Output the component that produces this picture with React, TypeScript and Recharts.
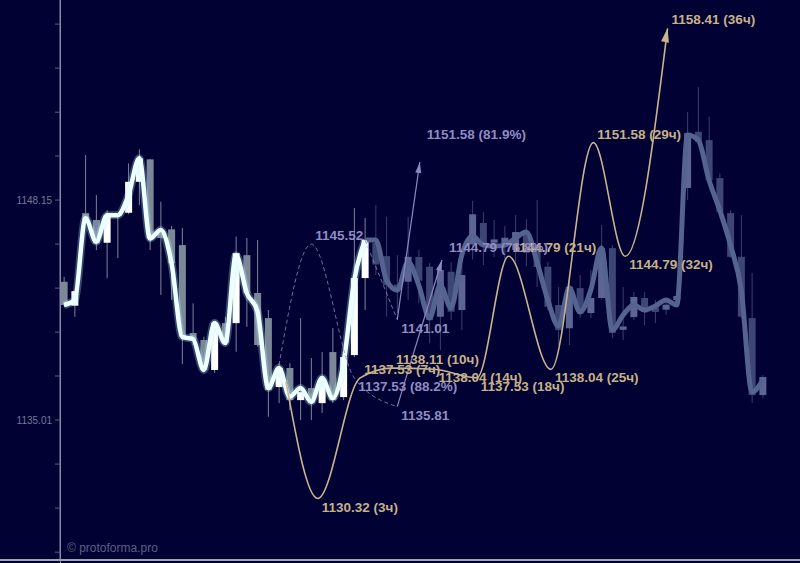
import React from 'react';
import { ComposedChart, Bar, Line, Scatter, XAxis, YAxis } from 'recharts';

// ---------- candles (hourly), index = candle number ----------
const CANDLE_OPEN = [
  1143.27, 1141.84, 1147.37, 1146.96, 1145.6, 1147.2, 1147.39, 1149.24, 1150.58, 1146.18,
  1146.4, 1145.46, 1140.21, 1139.79, 1138.0, 1140.8, 1140.8, 1144.86, 1142.6, 1141.1,
  1136.98, 1138.12, 1136.2, 1136.92, 1136.02, 1139.07, 1136.38, 1138.89, 1143.49, 1145.6,
  1144.8, 1143.1, 1143.27, 1144.75, 1144.17, 1141.18, 1143.87, 1141.58, 1145.5, 1146.78,
  1145.6, 1145.5, 1145.16, 1146.2, 1145.34, 1144.17, 1141.88, 1140.49, 1142.89, 1141.4,
  1142.3, 1145.28, 1140.4, 1141.16, 1142.3, 1141.88, 1141.6, 1142.18, 1148.87, 1152.23,
  1151.73, 1149.46, 1147.37, 1144.76, 1141.1, 1136.5,
];
const CANDLE_HIGH = [
  1143.57, 1142.75, 1150.84, 1148.45, 1147.55, 1147.37, 1150.34, 1151.18, 1150.6, 1148.05,
  1146.6, 1146.48, 1141.98, 1139.98, 1140.9, 1141.18, 1145.96, 1145.88, 1145.76, 1141.58,
  1138.41, 1138.41, 1141.1, 1138.71, 1139.07, 1140.5, 1139.07, 1147.67, 1147.07, 1147.85,
  1147.15, 1144.86, 1147.15, 1145.16, 1144.39, 1144.2, 1144.45, 1144.27, 1148.1, 1147.43,
  1146.96, 1146.6, 1147.25, 1147.0, 1148.15, 1144.45, 1142.95, 1143.37, 1143.67, 1143.97,
  1146.66, 1145.46, 1142.95, 1142.66, 1142.66, 1142.18, 1142.18, 1142.5, 1153.42, 1154.9,
  1153.13, 1149.74, 1147.55, 1147.25, 1143.79, 1137.7,
];
const CANDLE_LOW = [
  1141.8, 1141.18, 1146.84, 1145.16, 1143.47, 1144.69, 1147.3, 1147.85, 1145.16, 1142.48,
  1142.18, 1138.35, 1139.49, 1137.88, 1137.82, 1139.5, 1139.09, 1140.58, 1139.4, 1135.21,
  1136.02, 1135.61, 1135.01, 1135.01, 1135.43, 1136.02, 1136.2, 1138.77, 1141.58, 1143.67,
  1141.18, 1141.4, 1142.18, 1142.0, 1139.61, 1139.19, 1140.98, 1140.38, 1144.6, 1144.27,
  1144.75, 1144.4, 1144.27, 1144.2, 1142.95, 1141.58, 1139.49, 1139.49, 1141.1, 1141.1,
  1142.2, 1139.91, 1139.79, 1140.98, 1140.68, 1140.8, 1141.3, 1141.9, 1148.15, 1151.44,
  1149.22, 1147.4, 1144.7, 1141.1, 1136.02, 1136.32,
];
const CANDLE_CLOSE = [
  1141.88, 1142.71, 1146.96, 1145.56, 1147.25, 1147.3, 1149.24, 1150.64, 1145.86, 1145.88,
  1144.37, 1139.98, 1139.79, 1138.0, 1140.82, 1139.61, 1144.98, 1142.6, 1139.49, 1136.8,
  1138.12, 1136.2, 1136.68, 1136.02, 1137.4, 1136.2, 1138.77, 1143.49, 1145.76, 1144.3,
  1143.07, 1142.8, 1144.76, 1143.33, 1140.98, 1143.97, 1141.48, 1143.67, 1147.3, 1145.46,
  1145.8, 1145.9, 1146.24, 1145.0, 1144.15, 1141.78, 1140.38, 1142.97, 1141.58, 1142.3,
  1145.28, 1140.21, 1140.6, 1142.36, 1141.46, 1141.46, 1141.9, 1142.42, 1152.15, 1151.63,
  1149.34, 1147.45, 1144.76, 1141.18, 1136.5, 1137.58,
];
// smoothed price line
const SMOOTH = [
  1141.88, 1142.18, 1147.07, 1145.66, 1147.25, 1147.25, 1148.45, 1150.64, 1145.86, 1146.36,
  1144.39, 1139.98, 1139.85, 1138.0, 1140.8, 1139.61, 1144.86, 1142.6, 1141.5, 1136.92,
  1138.12, 1136.4, 1136.92, 1136.1, 1137.52, 1136.32, 1138.41, 1143.37, 1145.76, 1145.76,
  1143.37, 1142.77, 1144.45, 1143.07, 1141.1, 1143.07, 1141.7, 1144.86, 1146.0, 1145.46,
  1145.4, 1145.46, 1145.88, 1146.24, 1144.45, 1142.18, 1140.62, 1142.89, 1141.46, 1142.77,
  1145.28, 1140.38, 1141.28, 1141.88, 1141.58, 1141.82, 1142.18, 1141.88, 1152.03, 1151.73,
  1149.34, 1147.55, 1145.46, 1142.77, 1136.68, 1137.4,
];
const LIVE_LAST = 28; // last bright (actual) candle

// ---------- axis ----------
const Y_TICKS = [
  1158.66, 1156.03, 1153.40, 1150.78, 1148.15, 1145.52, 1142.89, 1140.26, 1137.64, 1135.01,
  1132.38, 1129.75, 1127.12,
];
const Y_LABELED = [1148.15, 1135.01];
const Y_DOMAIN: [number, number] = [1126.65, 1160.1];
const X_DOMAIN: [number, number] = [-0.372, 68.465];

// ---------- yellow forecast (hours) ----------
const YELLOW_HOURS = [0, 3, 7, 10, 14, 18, 21, 25, 29, 32, 36];
const YELLOW_VALUES = [1137.3, 1130.32, 1137.53, 1138.11, 1138.04, 1137.53, 1144.79, 1138.04, 1151.58, 1144.79, 1158.41];
const YELLOW_START = 20.65; // candle position of hour 0
const HOUR_STEP = 0.986;

// ---------- purple forecasts ----------
const PURPLE_A_POS = [20, 23, 27, 31];
const PURPLE_A_VALUES = [1138.3, 1145.52, 1137.53, 1135.81];
const PURPLE_A_LABELS = ['', '1145.52', '1137.53 (88.2%)', '1135.81'];
const ARROW_A_POS = [31, 35.16];
const ARROW_A_VALUES = [1135.81, 1144.57];
const ARROW_A_TARGET = 1144.79;
const ARROW_A_PROB = '76.8%';

const PURPLE_B_POS = [28, 31];
const PURPLE_B_VALUES = [1145.76, 1141.01];
const PURPLE_B_LABELS = ['', '1141.01'];
const ARROW_B_POS = [31, 33.1];
const ARROW_B_VALUES = [1141.01, 1150.42];
const ARROW_B_TARGET = 1151.58;
const ARROW_B_PROB = '81.9%';

// ---------- styles ----------
const BG = '#010133';
const YELLOW = '#c9b48f';
const YELLOW_TEXT = '#c6b188';
const PURPLE = '#8e88c0';
const PURPLE_TEXT = '#928cc2';
const FONT = '"Liberation Sans", Arial, Helvetica, sans-serif';

const rows = CANDLE_OPEN.map((o, i) => ({
  x: i,
  open: o,
  high: CANDLE_HIGH[i],
  low: CANDLE_LOW[i],
  close: CANDLE_CLOSE[i],
  live: i <= LIVE_LAST ? SMOOTH[i] : null,
  faded: i >= LIVE_LAST ? SMOOTH[i] : null,
}));

const yellowData = YELLOW_HOURS.map((h, i) => ({ x: YELLOW_START + h * HOUR_STEP, y: YELLOW_VALUES[i] }));
const purpleAData = PURPLE_A_POS.map((x, i) => ({ x, y: PURPLE_A_VALUES[i] }));
const purpleBData = PURPLE_B_POS.map((x, i) => ({ x, y: PURPLE_B_VALUES[i] }));
const arrowAData = ARROW_A_POS.map((x, i) => ({ x, y: ARROW_A_VALUES[i] }));
const arrowBData = ARROW_B_POS.map((x, i) => ({ x, y: ARROW_B_VALUES[i] }));

type Lbl = { x: number; y: number; text: string; side: 'above' | 'below'; color: string; tip?: boolean };
const labels: Lbl[] = [];
YELLOW_HOURS.forEach((h, i) => {
  if (i === 0) return;
  const v = YELLOW_VALUES[i];
  labels.push({
    x: yellowData[i].x, y: v, text: `${v.toFixed(2)} (${h}ч)`,
    side: v < YELLOW_VALUES[i - 1] ? 'below' : 'above', color: YELLOW_TEXT,
  });
});
PURPLE_A_LABELS.forEach((t, i) => {
  if (!t) return;
  labels.push({ x: PURPLE_A_POS[i], y: PURPLE_A_VALUES[i], text: t,
    side: PURPLE_A_VALUES[i] < PURPLE_A_VALUES[i - 1] ? 'below' : 'above', color: PURPLE_TEXT });
});
PURPLE_B_LABELS.forEach((t, i) => {
  if (!t) return;
  labels.push({ x: PURPLE_B_POS[i], y: PURPLE_B_VALUES[i], text: t,
    side: PURPLE_B_VALUES[i] < PURPLE_B_VALUES[i - 1] ? 'below' : 'above', color: PURPLE_TEXT });
});
labels.push({ x: ARROW_A_POS[1], y: ARROW_A_TARGET, text: `${ARROW_A_TARGET.toFixed(2)} (${ARROW_A_PROB})`, side: 'above', color: PURPLE_TEXT, tip: true });
labels.push({ x: ARROW_B_POS[1], y: ARROW_B_TARGET, text: `${ARROW_B_TARGET.toFixed(2)} (${ARROW_B_PROB})`, side: 'above', color: PURPLE_TEXT, tip: true });

const candleRange = (d: any) => [d.low, d.high];

const Candle = (p: any) => {
  const { x, y, width, height, payload } = p;
  if (x == null || y == null || !payload) return <g />;
  const top = Math.min(y, y + height);
  const h = Math.abs(height);
  const span = payload.high - payload.low || 1;
  const k = h / span;
  const oy = top + (payload.high - payload.open) * k;
  const cy = top + (payload.high - payload.close) * k;
  const bull = payload.close >= payload.open;
  const live = payload.x <= LIVE_LAST;
  const body = live ? (bull ? '#ffffff' : '#7c8897') : (bull ? '#5d6594' : '#3e4676');
  const wick = live ? '#7d859b' : '#3a416e';
  const cx = x + width / 2;
  const bt = Math.min(oy, cy);
  const bh = Math.max(1.5, Math.abs(oy - cy));
  return (
    <g>
      <line x1={cx} x2={cx} y1={top} y2={top + h} stroke={wick} strokeWidth={1} />
      <rect x={x} y={bt} width={width} height={bh} fill={body} />
    </g>
  );
};

function arrowDot(color: string, last: number, len: number, half: number) {
  const pts: Record<number, { x: number; y: number }> = {};
  return (p: any) => {
    const { cx, cy, index } = p;
    pts[index] = { x: cx, y: cy };
    if (index !== last || cx == null || cy == null) return <g key={`a${index}`} />;
    const prev = pts[index - 1];
    const ang = prev ? Math.atan2(cy - prev.y, cx - prev.x) : -Math.PI / 2;
    const bx = cx - len * Math.cos(ang);
    const by = cy - len * Math.sin(ang);
    const nx = -Math.sin(ang) * half;
    const ny = Math.cos(ang) * half;
    return (
      <polygon key={`a${index}`} points={`${cx},${cy} ${bx + nx},${by + ny} ${bx - nx},${by - ny}`} fill={color} />
    );
  };
}

const renderLabel = (p: any) => {
  const { cx, cy, payload } = p;
  if (cx == null || cy == null || !payload) return <g />;
  const dx = payload.tip ? 7 : 4;
  const dy = payload.side === 'below' ? 13 : -4;
  return (
    <text x={cx + dx} y={cy + dy} fill={payload.color} fontSize={13.5} fontWeight="bold" fontFamily={FONT}>
      {payload.text}
    </text>
  );
};

const renderYTick = (p: any) => {
  const v = p.payload?.value;
  const show = Y_LABELED.some((l) => Math.abs(l - v) < 0.005);
  return (
    <g>
      {show && (
        <text x={p.x - 1} y={p.y} dy={4} textAnchor="end" fill="#76789a" fontSize={10} fontFamily={FONT}>
          {Number(v).toFixed(2)}
        </text>
      )}
    </g>
  );
};

export default function App() {
  return (
    <div style={{ position: 'absolute', left: 0, top: 0, width: 800, height: 563, background: BG, overflow: 'hidden' }}>
      <div style={{ position: 'absolute', left: 60, top: 0, width: 1, height: 563, background: '#8a8aa4' }} />
      <ComposedChart width={800} height={563} data={rows} margin={{ top: 0, right: 0, bottom: 3, left: 0 }}>
        <XAxis xAxisId="c" type="number" dataKey="x" domain={X_DOMAIN} allowDataOverflow hide />
        <XAxis xAxisId="f" type="number" dataKey="x" domain={X_DOMAIN} allowDataOverflow hide />
        <YAxis
          type="number"
          domain={Y_DOMAIN}
          allowDataOverflow
          ticks={Y_TICKS}
          interval={0}
          width={60}
          tickSize={5}
          tickLine={{ stroke: '#5e6088' }}
          axisLine={{ stroke: '#8a8aa4' }}
          tick={renderYTick}
        />
        <Bar xAxisId="c" dataKey={candleRange} barSize={7} shape={(p: any) => <Candle {...p} />} isAnimationActive={false} />
        <Line xAxisId="c" dataKey="faded" type="monotone" stroke="#54638f" strokeWidth={5} dot={false} isAnimationActive={false} />
        <Line xAxisId="c" dataKey="live" type="monotone" stroke="#a8eeff" strokeOpacity={0.3} strokeWidth={8} dot={false} isAnimationActive={false} />
        <Line xAxisId="c" dataKey="live" type="monotone" stroke="#f0ffff" strokeWidth={4.5} dot={false} isAnimationActive={false} />
        <Line xAxisId="f" data={purpleAData} dataKey="y" type="monotone" stroke={PURPLE} strokeOpacity={0.8} strokeWidth={1} strokeDasharray="4 3" dot={false} isAnimationActive={false} />
        <Line xAxisId="f" data={purpleBData} dataKey="y" type="monotone" stroke={PURPLE} strokeOpacity={0.8} strokeWidth={1} strokeDasharray="4 3" dot={false} isAnimationActive={false} />
        <Line xAxisId="f" data={arrowAData} dataKey="y" type="linear" stroke={PURPLE} strokeWidth={1.2} dot={arrowDot(PURPLE, 1, 11, 3)} isAnimationActive={false} />
        <Line xAxisId="f" data={arrowBData} dataKey="y" type="linear" stroke={PURPLE} strokeWidth={1.2} dot={arrowDot(PURPLE, 1, 11, 3)} isAnimationActive={false} />
        <Line xAxisId="f" data={yellowData} dataKey="y" type="monotone" stroke={YELLOW} strokeWidth={1.6} dot={arrowDot(YELLOW, yellowData.length - 1, 14, 4)} isAnimationActive={false} />
        <Scatter xAxisId="f" data={labels} dataKey="y" shape={renderLabel} isAnimationActive={false} />
      </ComposedChart>
      <div style={{ position: 'absolute', left: 0, top: 559, width: 800, height: 2, background: '#a3a3b6' }} />
      <div
        style={{
          position: 'absolute', left: 67, top: 541, fontSize: 12, color: '#5c5f84',
          fontFamily: FONT, whiteSpace: 'nowrap',
        }}
      >
        © protoforma.pro
      </div>
    </div>
  );
}
